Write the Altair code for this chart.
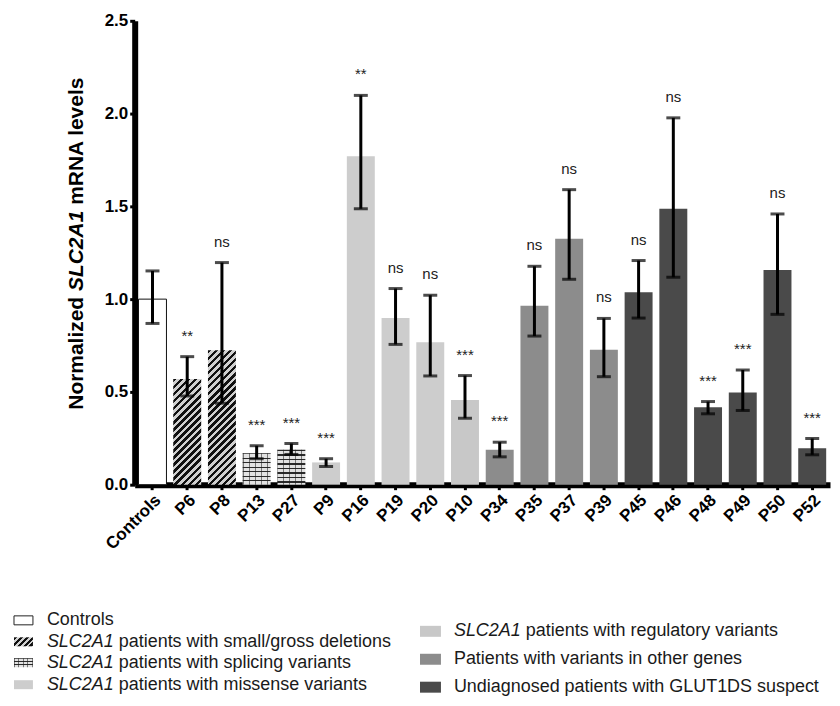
import altair as alt
import pandas as pd

# ---------------- data ----------------
groups = ["Controls", "P6", "P8", "P13", "P27", "P9", "P16", "P19", "P20", "P10",
          "P34", "P35", "P37", "P39", "P45", "P46", "P48", "P49", "P50", "P52"]
means = [1.00, 0.57, 0.725, 0.17, 0.188, 0.12, 1.77, 0.898, 0.767, 0.457,
         0.188, 0.965, 1.325, 0.727, 1.037, 1.487, 0.417, 0.497, 1.157, 0.197]
err_low = [0.869, 0.478, 0.439, 0.14, 0.163, 0.098, 1.487, 0.756, 0.586, 0.358,
           0.15, 0.801, 1.107, 0.582, 0.898, 1.118, 0.382, 0.40, 0.918, 0.161]
err_high = [1.152, 0.69, 1.197, 0.21, 0.222, 0.14, 2.098, 1.057, 1.021, 0.588,
            0.229, 1.177, 1.59, 0.896, 1.208, 1.977, 0.448, 0.618, 1.459, 0.249]
signif = ["", "**", "ns", "***", "***", "***", "**", "ns", "ns", "***",
          "***", "ns", "ns", "ns", "ns", "ns", "***", "***", "ns", "***"]
category = ["Controls", "Deletion", "Deletion", "Splicing", "Splicing",
            "Missense", "Missense", "Missense", "Missense", "Regulatory",
            "Other", "Other", "Other", "Other",
            "Undiagnosed", "Undiagnosed", "Undiagnosed", "Undiagnosed", "Undiagnosed", "Undiagnosed"]

cat_domain = ["Controls", "Deletion", "Splicing", "Missense", "Regulatory", "Other", "Undiagnosed"]
cat_colors = ["#ffffff", "#d0d0d0", "#bdbdbd", "#cdcdcd", "#c8c8c8", "#8c8c8c", "#4a4a4a"]

legend_italic = ["", "SLC2A1", "SLC2A1", "SLC2A1", "SLC2A1", "", ""]
legend_rest = ["Controls", "patients with small/gross deletions", "patients with splicing variants",
               "patients with missense variants", "patients with regulatory variants",
               "Patients with variants in other genes", "Undiagnosed patients with GLUT1DS suspect"]
legend_cat = ["Controls", "Deletion", "Splicing", "Missense", "Regulatory", "Other", "Undiagnosed"]

df = pd.DataFrame({"group": groups, "mean": means, "lo": err_low, "hi": err_high,
                   "sig": signif, "cat": category})

# ---------------- layout ----------------
W, H = 697, 465
PAD_IN, PAD_OUT = 0.195, 0.11
YMAX = 2.5
step = W / (len(groups) - PAD_IN + 2 * PAD_OUT)
bw = step * (1 - PAD_IN)
FONT = "Liberation Sans"
LFS = 18


def make_stops(n, frac, fg, bg):
    stops = []
    i = 0
    while i / n < 1:
        a = i / n
        b = min((i + frac) / n, 1.0)
        c = min((i + 1) / n, 1.0)
        stops += [{"offset": round(a, 5), "color": fg}, {"offset": round(b, 5), "color": fg}]
        if b < 1:
            stops += [{"offset": round(b, 5), "color": bg}, {"offset": round(c, 5), "color": bg}]
        i += 1
    return stops


def hatch(w, h, period=5.0, frac=0.5, fg="#111111", bg="#d0d0d0"):
    r = h / w
    k = (1 + r) / (1 + r * r)
    n = (w + h) / (period * 2 ** 0.5)
    return {"gradient": "linear", "x1": 0, "y1": 0, "x2": k, "y2": k * r,
            "stops": make_stops(n, frac, fg, bg)}


def bricks(h, period=4.5, frac=0.3, fg="#2a2a2a", bg="#e2e2e2"):
    n = h / period
    return {"gradient": "linear", "x1": 0, "y1": 0, "x2": 0, "y2": 1,
            "stops": make_stops(n, frac, fg, bg)}


def vlines(w, period=6.0, frac=0.18, fg="rgba(30,30,30,0.55)", bg="rgba(255,255,255,0)"):
    n = w / period
    return {"gradient": "linear", "x1": 0, "y1": 0, "x2": 1, "y2": 0,
            "stops": make_stops(n, frac, fg, bg)}


X = alt.X("group:N", sort=groups,
          scale=alt.Scale(domain=groups, paddingInner=PAD_IN, paddingOuter=PAD_OUT),
          axis=alt.Axis(title=None, labelAngle=-45))
Y = alt.Y("mean:Q", scale=alt.Scale(domain=[0, YMAX], nice=False),
          axis=alt.Axis(title=None, values=[0, 0.5, 1.0, 1.5, 2.0, 2.5], format=".1f", grid=False))

base = alt.Chart(df)

plain = base.transform_filter(
    "indexof(['Regulatory','Other','Undiagnosed','Missense'], datum.cat) >= 0"
).mark_bar().encode(
    x=X, y=Y,
    color=alt.Color("cat:N", scale=alt.Scale(domain=cat_domain, range=cat_colors), legend=None))

controls = base.transform_filter("datum.cat == 'Controls'").mark_bar(
    fill="white", stroke="#111111", strokeWidth=1).encode(x=X, y=Y)

layers = [controls, plain]
for g, m, c in zip(groups, means, category):
    h = m / YMAX * H
    if c == "Deletion":
        layers.append(base.transform_filter(alt.datum.group == g).mark_bar(
            fill=hatch(bw, h)).encode(x=X, y=Y))
    elif c == "Splicing":
        layers.append(base.transform_filter(alt.datum.group == g).mark_bar(
            fill=bricks(h)).encode(x=X, y=Y))
        layers.append(base.transform_filter(alt.datum.group == g).mark_bar(
            fill=vlines(bw)).encode(x=X, y=Y))

err = base.mark_rule(color="black", strokeWidth=3).encode(x=X, y="lo:Q", y2="hi:Q")
cap_hi = base.mark_tick(color="black", thickness=3, size=14).encode(x=X, y="hi:Q")
cap_lo = base.mark_tick(color="black", thickness=3, size=14).encode(x=X, y="lo:Q")
sig = base.mark_text(baseline="alphabetic", dy=-16, fontSize=15, font=FONT, color="#222222").encode(
    x=X, y="hi:Q", text="sig:N")
layers += [err, cap_hi, cap_lo, sig]

# ---------------- y-axis title (mixed italic) ----------------
TFS = 21
w_norm = 5.668 * TFS
w_slc = 3.834 * TFS
w_rest = 6.391 * TFS
total = w_norm + w_slc + w_rest
tx, ty = -57.5, 223
s0 = -total / 2
title_parts = [("Normalized", s0, "normal"), ("SLC2A1", s0 + w_norm, "italic"),
               ("mRNA levels", s0 + w_norm + w_slc + 0.278 * TFS, "normal")]
for txt, off, style in title_parts:
    layers.append(alt.Chart(pd.DataFrame({"t": [txt]})).mark_text(
        angle=270, align="left", baseline="middle", dx=off, font=FONT, fontSize=TFS,
        fontWeight="bold", fontStyle=style, color="black").encode(
        x=alt.value(tx), y=alt.value(ty), text="t:N"))

# ---------------- legend ----------------
OX, OY = 135, 20
rows_y = [621, 642.5, 663.5, 685.5, 632, 660, 688]
cols = ["L", "L", "L", "L", "R", "R", "R"]
leg_rows = []
for it, rest, cat, yy, col in zip(legend_italic, legend_rest, legend_cat, rows_y, cols):
    if col == "L":
        sx1, sx2, sh, txp = 14, 33, 9, 47
    else:
        sx1, sx2, sh, txp = 421, 442, 11, 455
    leg_rows.append({"cat": cat, "italic": it, "rest": rest,
                     "sx1": sx1 - OX, "sx2": sx2 - OX,
                     "sy1": yy - sh / 2 - OY, "sy2": yy + sh / 2 - OY,
                     "tx": txp - OX, "ty": yy - OY,
                     "rx": txp - OX + ((3.724 + 0.278) * LFS if it else 0)})
leg = pd.DataFrame(leg_rows)
lbase = alt.Chart(leg)
LX = alt.X("sx1:Q", scale=None)
LX2 = alt.X2("sx2:Q")
LY = alt.Y("sy1:Q", scale=None)
LY2 = alt.Y2("sy2:Q")

sw_plain = lbase.transform_filter(
    "indexof(['Regulatory','Other','Undiagnosed','Missense'], datum.cat) >= 0").mark_rect().encode(
    x=LX, x2=LX2, y=LY, y2=LY2,
    color=alt.Color("cat:N", scale=alt.Scale(domain=cat_domain, range=cat_colors), legend=None))
sw_ctrl = lbase.transform_filter("datum.cat == 'Controls'").mark_rect(
    fill="white", stroke="#222222", strokeWidth=1).encode(x=LX, x2=LX2, y=LY, y2=LY2)
sw_del = lbase.transform_filter("datum.cat == 'Deletion'").mark_rect(
    fill=hatch(19, 9, period=4.2, frac=0.55)).encode(x=LX, x2=LX2, y=LY, y2=LY2)
sw_spl = lbase.transform_filter("datum.cat == 'Splicing'").mark_rect(
    fill=bricks(9, period=3.0, frac=0.35)).encode(x=LX, x2=LX2, y=LY, y2=LY2)
sw_spl2 = lbase.transform_filter("datum.cat == 'Splicing'").mark_rect(
    fill=vlines(19, period=4.5)).encode(x=LX, x2=LX2, y=LY, y2=LY2)
t_it = lbase.mark_text(align="left", baseline="middle", font=FONT, fontSize=LFS,
                       fontStyle="italic", color="#1a1a1a").encode(
    x=alt.X("tx:Q", scale=None), y=alt.Y("ty:Q", scale=None), text="italic:N")
t_rest = lbase.mark_text(align="left", baseline="middle", font=FONT, fontSize=LFS,
                         color="#1a1a1a").encode(
    x=alt.X("rx:Q", scale=None), y=alt.Y("ty:Q", scale=None), text="rest:N")
layers += [sw_plain, sw_ctrl, sw_del, sw_spl, sw_spl2, t_it, t_rest]

chart = alt.layer(*layers).properties(
    width=W, height=H, padding={"left": 5, "top": 3, "right": 2, "bottom": 2}
).configure_view(stroke=None).configure_axis(
    domainColor="black", domainWidth=6, tickColor="black", tickWidth=3, tickSize=5,
    labelFont=FONT, labelFontSize=17, labelFontWeight="bold", labelColor="black",
    labelPadding=2
)

chart.save("out.html", embed_options={"renderer": "svg", "actions": False})
